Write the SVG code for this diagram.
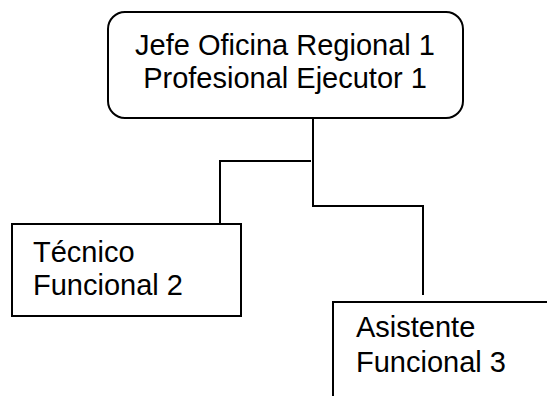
<svg xmlns="http://www.w3.org/2000/svg" width="547" height="396" viewBox="0 0 547 396">
<style>
.box{fill:#fff;stroke:#000;stroke-width:2}
.t{font-family:"Liberation Sans",Arial,sans-serif;font-size:29px;fill:#000}
.c{fill:none;stroke:#000;stroke-width:2}
</style>
<rect width="547" height="396" fill="#fff"/>
<g id="connectors">
<polyline class="c" points="313,118 313,206 423,206 423,295"/>
<polyline class="c" points="311,161 220,161 220,224"/>
</g>
<g id="node-jefe">
<rect class="box" x="108" y="12" width="355" height="106" rx="17" ry="17"/>
<text class="t" x="285" y="55" text-anchor="middle">Jefe Oficina Regional 1</text>
<text class="t" x="285" y="88" text-anchor="middle">Profesional Ejecutor 1</text>
</g>
<g id="node-tecnico">
<rect class="box" x="12" y="224" width="229" height="92"/>
<text class="t" x="33" y="262">Técnico</text>
<text class="t" x="33" y="295">Funcional 2</text>
</g>
<g id="node-asistente">
<rect class="box" x="333" y="302" width="240" height="120"/>
<text class="t" x="356" y="337">Asistente</text>
<text class="t" x="356" y="372">Funcional 3</text>
</g>
</svg>
